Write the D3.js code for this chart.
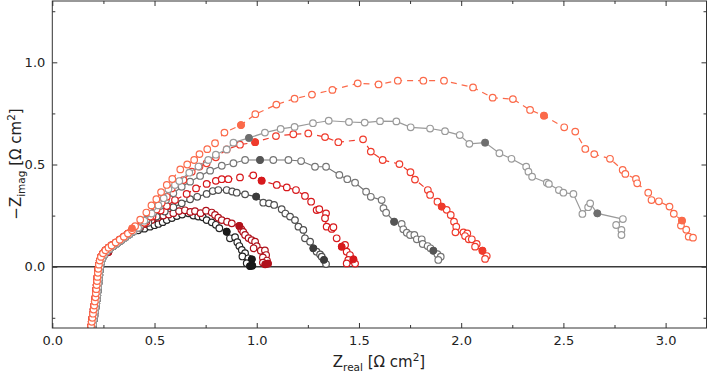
<!DOCTYPE html>
<html>
<head>
<meta charset="utf-8">
<script src="https://cdn.jsdelivr.net/npm/d3@7"></script>
<style>
  body { margin: 0; background: #fff; }
  text { font-family: "DejaVu Sans", sans-serif; fill: #222; }
</style>
</head>
<body>
<div id="chart"></div>
<script>
// shared high-frequency (inductive) tails
var tailRed = [[0.19,-0.29],[0.193,-0.27],[0.196,-0.25],[0.199,-0.23],[0.202,-0.21],[0.205,-0.19],[0.208,-0.17],[0.211,-0.15],[0.213,-0.13],[0.215,-0.11],[0.217,-0.09],[0.219,-0.07],[0.221,-0.05],[0.223,-0.03],[0.225,-0.01],[0.228,0.01],[0.232,0.03],[0.238,0.048],[0.248,0.065],[0.26,0.08],[0.275,0.093],[0.29,0.104],[0.31,0.118],[0.33,0.132],[0.35,0.147],[0.37,0.162],[0.39,0.178]];
var tailGrey = [[0.197,-0.30],[0.20,-0.28],[0.203,-0.26],[0.206,-0.24],[0.209,-0.22],[0.212,-0.20],[0.215,-0.18],[0.218,-0.16],[0.22,-0.14],[0.222,-0.12],[0.224,-0.10],[0.226,-0.08],[0.228,-0.06],[0.23,-0.04],[0.232,-0.02],[0.235,0.0],[0.239,0.02],[0.245,0.04],[0.254,0.058],[0.266,0.074],[0.28,0.087],[0.297,0.10],[0.316,0.114],[0.336,0.128],[0.356,0.143],[0.376,0.158],[0.396,0.172]];

// arcs, Z real / -Z imag in ohm cm2
var s1 = [[0.42,0.178],[0.45,0.186],[0.478,0.196],[0.50,0.203],[0.519,0.209],[0.54,0.218],[0.56,0.228],[0.585,0.238],[0.609,0.248],[0.635,0.255],[0.666,0.261],[0.69,0.25],[0.714,0.245],[0.736,0.242],[0.755,0.228],[0.78,0.217],[0.80,0.205],[0.817,0.188],[0.853,0.171],[0.869,0.139],[0.894,0.144],[0.905,0.12],[0.915,0.101],[0.927,0.082],[0.943,0.066],[0.93,0.05],[0.959,0.041],[0.976,0.036],[0.951,0.017],[0.967,0.003],[0.978,0.005]];
var s2 = [[0.42,0.19],[0.454,0.209],[0.486,0.228],[0.515,0.24],[0.543,0.25],[0.57,0.255],[0.592,0.262],[0.62,0.272],[0.649,0.276],[0.675,0.268],[0.698,0.272],[0.725,0.262],[0.752,0.274],[0.78,0.265],[0.796,0.253],[0.812,0.24],[0.829,0.228],[0.855,0.22],[0.878,0.212],[0.915,0.199],[0.925,0.182],[0.934,0.17],[0.943,0.155],[0.96,0.14],[0.975,0.13],[0.992,0.122],[1.0,0.1],[0.985,0.09],[1.02,0.078],[1.04,0.08],[1.046,0.057],[1.03,0.045],[1.05,0.03],[1.041,0.012],[1.055,0.015],[1.03,0.02]];
var s3 = [[0.43,0.19],[0.47,0.215],[0.51,0.245],[0.55,0.27],[0.592,0.291],[0.633,0.31],[0.674,0.33],[0.709,0.342],[0.755,0.356],[0.785,0.37],[0.812,0.375],[0.853,0.375],[0.88,0.368],[0.902,0.362],[0.943,0.354],[0.997,0.343],[1.032,0.313],[1.06,0.31],[1.085,0.302],[1.122,0.281],[1.14,0.26],[1.163,0.245],[1.187,0.228],[1.204,0.196],[1.228,0.18],[1.236,0.139],[1.261,0.122],[1.277,0.09],[1.293,0.073],[1.31,0.06],[1.318,0.049],[1.329,0.033],[1.339,0.013]];
var s4 = [[0.43,0.198],[0.46,0.22],[0.49,0.245],[0.53,0.275],[0.56,0.297],[0.60,0.326],[0.657,0.356],[0.703,0.383],[0.755,0.405],[0.80,0.42],[0.829,0.428],[0.861,0.428],[0.918,0.437],[0.983,0.447],[1.024,0.421],[1.098,0.40],[1.147,0.388],[1.192,0.375],[1.236,0.346],[1.266,0.318],[1.293,0.277],[1.306,0.281],[1.339,0.261],[1.334,0.237],[1.342,0.196],[1.367,0.185],[1.375,0.193],[1.391,0.139],[1.416,0.098],[1.432,0.106],[1.44,0.073],[1.456,0.057],[1.448,0.033],[1.473,0.036],[1.481,0.015],[1.44,0.016]];
var s5 = [[0.43,0.20],[0.46,0.23],[0.495,0.265],[0.527,0.297],[0.556,0.326],[0.592,0.359],[0.633,0.391],[0.674,0.416],[0.723,0.444],[0.772,0.47],[0.829,0.494],[0.886,0.506],[0.943,0.522],[1.016,0.522],[1.081,0.522],[1.155,0.522],[1.217,0.517],[1.285,0.489],[1.339,0.489],[1.404,0.449],[1.443,0.428],[1.481,0.411],[1.535,0.367],[1.558,0.342],[1.611,0.326],[1.62,0.286],[1.633,0.264],[1.672,0.22],[1.709,0.209],[1.717,0.183],[1.734,0.166],[1.75,0.155],[1.771,0.155],[1.783,0.134],[1.807,0.134],[1.812,0.111],[1.836,0.101],[1.85,0.09],[1.864,0.078],[1.884,0.061],[1.90,0.049],[1.888,0.033]];
var s6 = [[0.415,0.195],[0.45,0.215],[0.48,0.245],[0.51,0.28],[0.535,0.312],[0.56,0.342],[0.584,0.383],[0.641,0.424],[0.682,0.465],[0.72,0.49],[0.755,0.506],[0.80,0.535],[0.853,0.574],[0.918,0.597],[0.992,0.609],[1.094,0.639],[1.179,0.648],[1.252,0.652],[1.334,0.634],[1.399,0.609],[1.52,0.623],[1.558,0.563],[1.616,0.522],[1.698,0.502],[1.752,0.462],[1.774,0.426],[1.837,0.375],[1.848,0.351],[1.884,0.318],[1.905,0.294],[1.929,0.278],[1.949,0.253],[1.965,0.22],[1.976,0.196],[1.972,0.168],[2.011,0.168],[2.03,0.163],[2.019,0.15],[2.037,0.134],[2.052,0.134],[2.076,0.111],[2.068,0.098],[2.104,0.078],[2.125,0.052],[2.117,0.038]];
var s7 = [[0.42,0.19],[0.45,0.225],[0.486,0.26],[0.519,0.30],[0.545,0.335],[0.568,0.379],[0.60,0.40],[0.621,0.419],[0.67,0.46],[0.715,0.49],[0.763,0.522],[0.80,0.548],[0.853,0.574],[0.886,0.607],[0.962,0.63],[1.04,0.656],[1.117,0.674],[1.185,0.684],[1.275,0.702],[1.352,0.714],[1.451,0.708],[1.528,0.705],[1.603,0.712],[1.683,0.711],[1.753,0.682],[1.848,0.676],[1.921,0.663],[1.993,0.644],[2.04,0.601],[2.117,0.607],[2.187,0.555],[2.246,0.528],[2.318,0.489],[2.329,0.465],[2.347,0.44],[2.419,0.411],[2.429,0.405],[2.478,0.375],[2.50,0.362],[2.549,0.356],[2.593,0.258],[2.621,0.291],[2.631,0.31],[2.666,0.261],[2.791,0.233],[2.758,0.204],[2.784,0.18],[2.784,0.155]];
var s8 = [[0.405,0.198],[0.43,0.23],[0.46,0.265],[0.485,0.30],[0.509,0.33],[0.532,0.365],[0.56,0.40],[0.587,0.429],[0.626,0.476],[0.66,0.50],[0.694,0.522],[0.72,0.551],[0.758,0.575],[0.796,0.604],[0.842,0.656],[0.923,0.693],[0.993,0.746],[1.096,0.793],[1.185,0.822],[1.27,0.842],[1.37,0.865],[1.494,0.897],[1.596,0.892],[1.69,0.91],[1.815,0.91],[1.916,0.91],[2.058,0.877],[2.154,0.827],[2.253,0.82],[2.337,0.767],[2.405,0.739],[2.504,0.682],[2.558,0.661],[2.607,0.576],[2.651,0.551],[2.728,0.528],[2.79,0.473],[2.803,0.454],[2.855,0.429],[2.861,0.408],[2.915,0.362],[2.931,0.326],[2.967,0.32],[3.019,0.294],[3.04,0.259],[3.08,0.225],[3.075,0.201],[3.101,0.181],[3.113,0.147],[3.134,0.142]];

// filled markers (characteristic frequencies)
var s1Filled = [[0.23,-0.045],[0.853,0.171],[0.976,0.036],[0.967,0.003],[0.978,0.005]];
var s2Filled = [[0.228,0.01],[0.275,0.07],[0.454,0.209],[0.915,0.199],[1.041,0.012],[1.055,0.015]];
var s3Filled = [[0.997,0.343],[1.277,0.09],[1.329,0.033]];
var s4Filled = [[0.43,0.198],[1.024,0.421],[1.416,0.098],[1.473,0.036]];
var s5Filled = [[1.016,0.522],[1.672,0.22],[1.864,0.078]];
var s6Filled = [[0.415,0.195],[0.992,0.609],[1.905,0.294],[2.104,0.078]];
var s7Filled = [[0.962,0.63],[2.117,0.607],[2.666,0.261]];
var s8Filled = [[0.39,0.188],[0.923,0.693],[2.405,0.739],[3.08,0.225]];

var colors = ["#262626","#b0111b","#505050","#d7191c","#767676","#ef3b2c","#9a9a9a","#fb6a4a"];
var fillColors = ["#1a1a1a","#b0111b","#3c3c3c","#d7191c","#555555","#ef3b2c","#6e6e6e","#fb6a4a"];

var xTicks = [0, 0.5, 1.0, 1.5, 2.0, 2.5, 3.0];
var xMinor = [0.25, 0.75, 1.25, 1.75, 2.25, 2.75];
var yTicks = [0, 0.5, 1.0];
var yMinor = [-0.25, 0.25, 0.75, 1.25];

var series = [
  {pts: tailGrey.concat(s1), filled: s1Filled, dashed: false},
  {pts: tailRed.concat(s2), filled: s2Filled, dashed: true},
  {pts: tailGrey.concat(s3), filled: s3Filled, dashed: false},
  {pts: tailRed.concat(s4), filled: s4Filled, dashed: true},
  {pts: tailGrey.concat(s5), filled: s5Filled, dashed: false},
  {pts: tailRed.concat(s6), filled: s6Filled, dashed: true},
  {pts: tailGrey.concat(s7), filled: s7Filled, dashed: false},
  {pts: tailRed.concat(s8), filled: s8Filled, dashed: true}
];

// set the dimensions and margins of the graph
var margin = {top: 1, right: 2.5, bottom: 44, left: 52.3},
    width = 709 - margin.left - margin.right,
    height = 372 - margin.top - margin.bottom;

var x = d3.scaleLinear().domain([0, 3.2]).range([0, width]);
var y = d3.scaleLinear().domain([-0.3, 1.3]).range([height, 0]);

var svg = d3.select("#chart").append("svg")
    .attr("width", 709)
    .attr("height", 372)
  .append("g")
    .attr("transform", "translate(" + margin.left + "," + margin.top + ")");

svg.append("clipPath").attr("id", "clip")
  .append("rect").attr("width", width).attr("height", height);

// zero line
svg.append("line")
    .attr("x1", 0).attr("x2", width)
    .attr("y1", y(0)).attr("y2", y(0))
    .attr("stroke", "#3a3a3a")
    .attr("stroke-width", 1.4);

var plot = svg.append("g").attr("clip-path", "url(#clip)");

var line = d3.line()
    .x(function(d) { return x(d[0]); })
    .y(function(d) { return y(d[1]); });

series.forEach(function(s, i) {
  var g = plot.append("g");
  g.append("path")
      .datum(s.pts)
      .attr("fill", "none")
      .attr("stroke", colors[i])
      .attr("stroke-width", 1.2)
      .attr("stroke-dasharray", s.dashed ? "6,5" : null)
      .attr("d", line);
  g.selectAll("circle.open")
      .data(s.pts)
    .enter().append("circle")
      .attr("class", "open")
      .attr("cx", function(d) { return x(d[0]); })
      .attr("cy", function(d) { return y(d[1]); })
      .attr("r", 3.3)
      .attr("fill", "#fff")
      .attr("stroke", colors[i])
      .attr("stroke-width", 1.2);
  g.selectAll("circle.filled")
      .data(s.filled)
    .enter().append("circle")
      .attr("class", "filled")
      .attr("cx", function(d) { return x(d[0]); })
      .attr("cy", function(d) { return y(d[1]); })
      .attr("r", 3.4)
      .attr("fill", fillColors[i])
      .attr("stroke", fillColors[i])
      .attr("stroke-width", 1);
});

// axes, ticks pointing inward on all four sides
function styleAxis(g) {
  g.select(".domain").remove();
  g.selectAll(".tick line").attr("stroke", "#333");
  g.selectAll(".tick text").attr("fill", "#222").style("font-size", "13px")
    .style("font-family", "DejaVu Sans");
}

svg.append("g")
    .attr("transform", "translate(0," + height + ")")
    .call(d3.axisBottom(x).tickValues(xTicks).tickSizeInner(-5).tickSizeOuter(0)
      .tickPadding(8).tickFormat(d3.format(".1f")))
    .call(styleAxis);
svg.append("g")
    .attr("transform", "translate(0," + height + ")")
    .call(d3.axisBottom(x).tickValues(xMinor).tickSizeInner(-3).tickSizeOuter(0).tickFormat(""))
    .call(styleAxis);
svg.append("g")
    .call(d3.axisTop(x).tickValues(xTicks).tickSizeInner(-5).tickSizeOuter(0).tickFormat(""))
    .call(styleAxis);
svg.append("g")
    .call(d3.axisTop(x).tickValues(xMinor).tickSizeInner(-3).tickSizeOuter(0).tickFormat(""))
    .call(styleAxis);

svg.append("g")
    .call(d3.axisLeft(y).tickValues(yTicks).tickSizeInner(-5).tickSizeOuter(0)
      .tickPadding(7).tickFormat(d3.format(".1f")))
    .call(styleAxis);
svg.append("g")
    .call(d3.axisLeft(y).tickValues(yMinor).tickSizeInner(-3).tickSizeOuter(0).tickFormat(""))
    .call(styleAxis);
svg.append("g")
    .attr("transform", "translate(" + width + ",0)")
    .call(d3.axisRight(y).tickValues(yTicks).tickSizeInner(-5).tickSizeOuter(0).tickFormat(""))
    .call(styleAxis);
svg.append("g")
    .attr("transform", "translate(" + width + ",0)")
    .call(d3.axisRight(y).tickValues(yMinor).tickSizeInner(-3).tickSizeOuter(0).tickFormat(""))
    .call(styleAxis);

// frame
svg.append("rect")
    .attr("width", width)
    .attr("height", height)
    .attr("fill", "none")
    .attr("stroke", "#333")
    .attr("stroke-width", 1);

// axis labels
var xl = svg.append("text")
    .attr("x", 379 - margin.left)
    .attr("y", 367 - margin.top)
    .attr("text-anchor", "middle")
    .style("font-size", "15px");
xl.append("tspan").text("Z");
xl.append("tspan").attr("dy", 4).style("font-size", "10.5px").text("real");
xl.append("tspan").attr("dy", -4).text(" [\u03A9 cm");
xl.append("tspan").attr("dy", -6).style("font-size", "10.5px").text("2");
xl.append("tspan").attr("dy", 6).text("]");

var yl = svg.append("text")
    .attr("transform", "translate(" + (21 - margin.left) + "," + (164 - margin.top) + ") rotate(-90)")
    .attr("text-anchor", "middle")
    .style("font-size", "15px");
yl.append("tspan").text("\u2212Z");
yl.append("tspan").attr("dy", 4).style("font-size", "10.5px").text("imag");
yl.append("tspan").attr("dy", -4).text(" [\u03A9 cm");
yl.append("tspan").attr("dy", -6).style("font-size", "10.5px").text("2");
yl.append("tspan").attr("dy", 6).text("]");
</script>
</body>
</html>
